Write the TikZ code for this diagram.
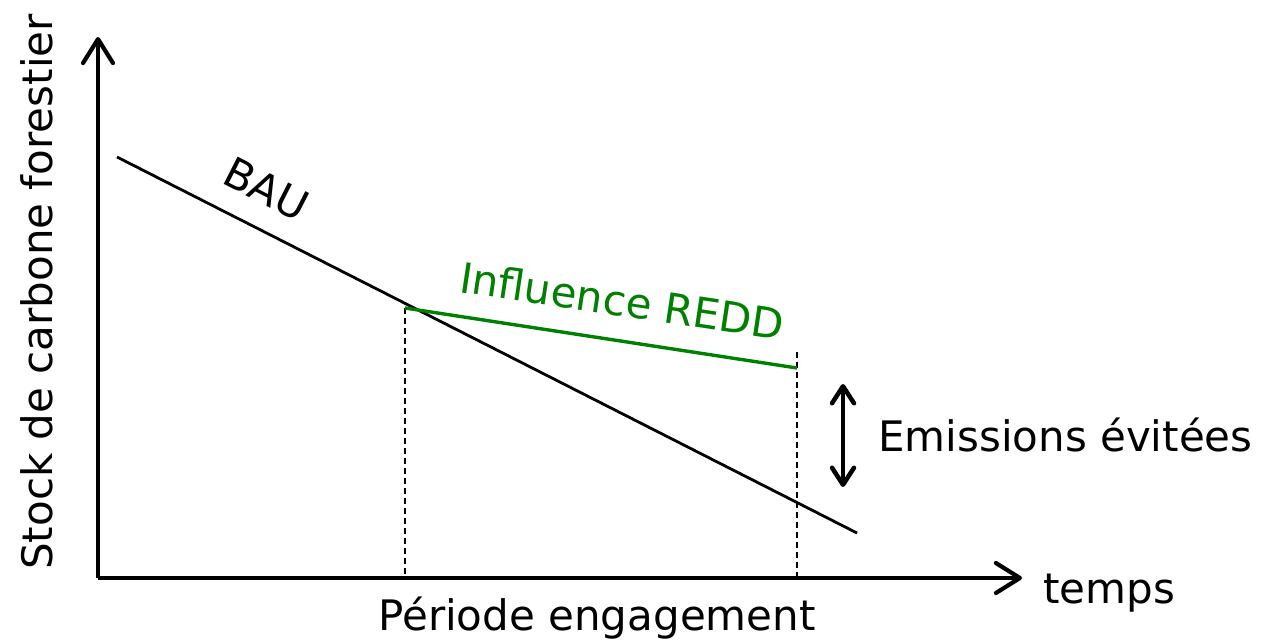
\documentclass[tikz,border=0pt]{standalone}
\usepackage{fontspec}
\setmainfont{DejaVu Sans}
\usetikzlibrary{arrows.meta}
\definecolor{reddgreen}{RGB}{0,128,0}
\tikzset{
  axis/.style={line width=4.2pt, -{Straight Barb[length=24pt,width=30pt,round]}},
  guide/.style={line width=1.5pt, dash pattern=on 6pt off 4pt},
  lbl/.style={font=\fontsize{42}{50}\selectfont, inner sep=0pt},
  dbl/.style={line width=4.5pt, {Straight Barb[length=17pt,width=22pt,round]}-{Straight Barb[length=17pt,width=22pt,round]}}
}
\begin{document}
\begin{tikzpicture}[x=1pt,y=-1pt]
\useasboundingbox (0,0) rectangle (1270,640);
\coordinate (o) at (98,578);
\coordinate (ytip) at (98,37);
\coordinate (xtip) at (1022,578);
\draw[axis] (o) -- (ytip);
\draw[axis] (o) -- (xtip);
\coordinate (b0) at (117,157);
\coordinate (b1) at (857,533);
\draw[line width=2.8pt] (b0) -- (b1);
\coordinate (g0) at (405,308);
\coordinate (g1) at (797,368);
\coordinate (d0) at (405,578);
\coordinate (d1t) at (797,352);
\coordinate (d1) at (797,578);
\draw[guide] (g0) -- (d0);
\draw[guide] (d1t) -- (d1);
\draw[line width=3.4pt, reddgreen] (g0) -- (g1);
\coordinate (a0) at (843,384);
\coordinate (a1) at (843,487);
\draw[dbl] (a0) -- (a1);
\node[lbl, rotate=90, anchor=base] (ylab) at (52,292) {Stock de carbone forestier};
\node[lbl, anchor=base west] (xlab) at (1043,603) {temps};
\node[lbl, anchor=base] (per) at (597,630) {Période engagement};
\node[lbl, anchor=base west] (em) at (878,451) {Emissions évitées};
\node[lbl, anchor=base west, rotate=-27] (bau) at (220,182) {BAU};
\node[lbl, anchor=base west, rotate=-8.5, text=reddgreen] (redd) at (458,292) {Influence REDD};
\end{tikzpicture}
\end{document}
